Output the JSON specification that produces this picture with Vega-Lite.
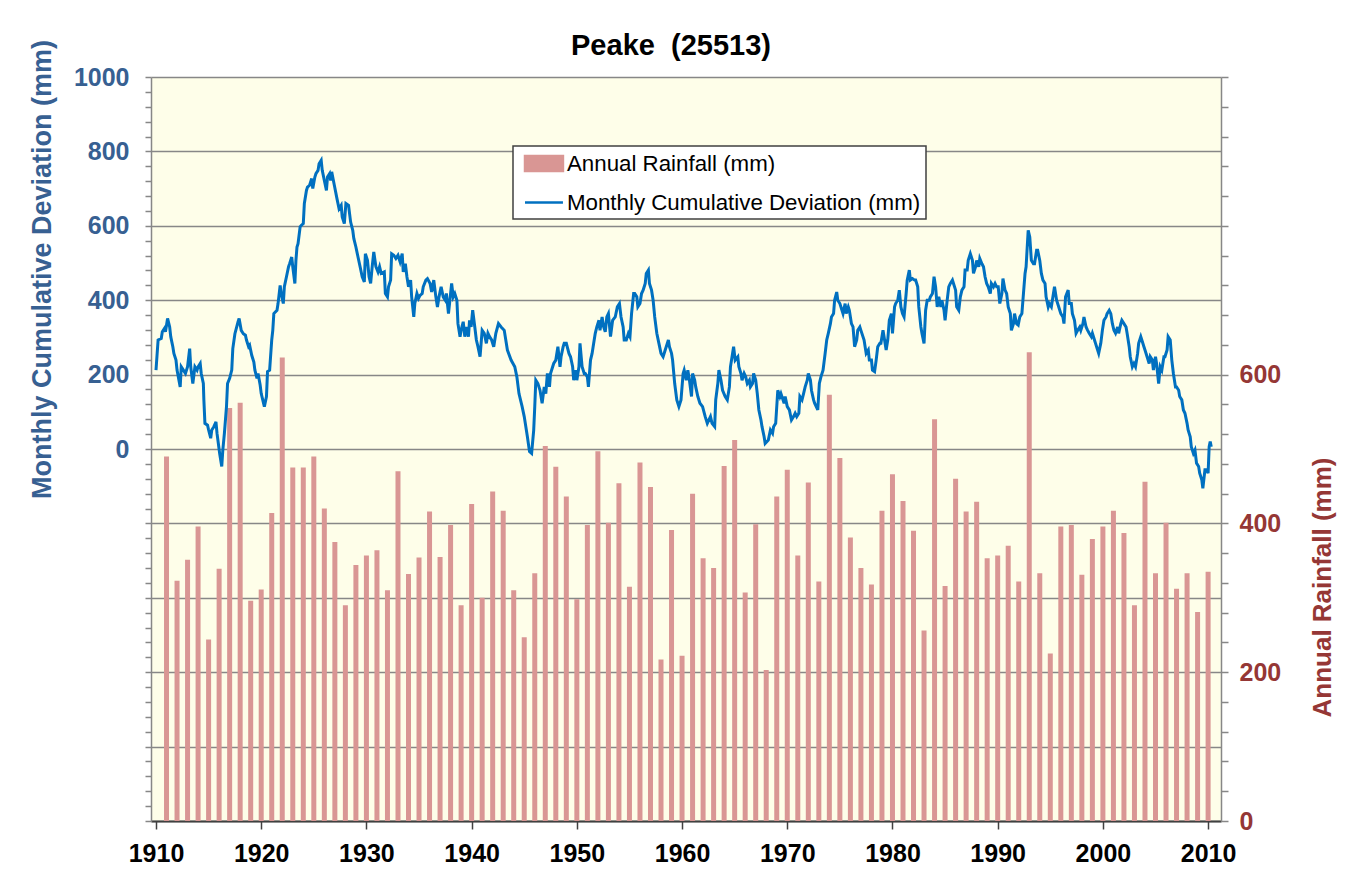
{
"$schema": "https://vega.github.io/schema/vega-lite/v6.json",
"width": 1070, "height": 744,
"autosize": "none",
"padding": {"left": 151, "top": 77, "right": 139, "bottom": 63},
"background": "white",
"config": {"font": "Liberation Sans", "view": {"fill": "#FEFEE9", "stroke": null}},
"title": {"text": "Peake \u00a0(25513)", "fontSize": 29, "fontWeight": "bold", "color": "black", "anchor": "middle", "frame": "group", "dx": -15, "offset": -22, "font": "Liberation Sans"},
"datasets": {
"rain": [
{"year":1911,"rain":490},{"year":1912,"rain":323},{"year":1913,"rain":351},{"year":1914,"rain":396},{"year":1915,"rain":244},{"year":1916,"rain":339},{"year":1917,"rain":555},{"year":1918,"rain":562},{"year":1919,"rain":296},{"year":1920,"rain":311},
{"year":1921,"rain":414},{"year":1922,"rain":623},{"year":1923,"rain":475},{"year":1924,"rain":475},{"year":1925,"rain":490},{"year":1926,"rain":420},{"year":1927,"rain":375},{"year":1928,"rain":290},{"year":1929,"rain":344},{"year":1930,"rain":357},
{"year":1931,"rain":364},{"year":1932,"rain":310},{"year":1933,"rain":470},{"year":1934,"rain":332},{"year":1935,"rain":354},{"year":1936,"rain":416},{"year":1937,"rain":355},{"year":1938,"rain":398},{"year":1939,"rain":290},{"year":1940,"rain":426},
{"year":1941,"rain":300},{"year":1942,"rain":443},{"year":1943,"rain":417},{"year":1944,"rain":310},{"year":1945,"rain":247},{"year":1946,"rain":333},{"year":1947,"rain":504},{"year":1948,"rain":476},{"year":1949,"rain":436},{"year":1950,"rain":298},
{"year":1951,"rain":398},{"year":1952,"rain":497},{"year":1953,"rain":401},{"year":1954,"rain":454},{"year":1955,"rain":315},{"year":1956,"rain":482},{"year":1957,"rain":449},{"year":1958,"rain":217},{"year":1959,"rain":391},{"year":1960,"rain":222},
{"year":1961,"rain":440},{"year":1962,"rain":353},{"year":1963,"rain":340},{"year":1964,"rain":477},{"year":1965,"rain":512},{"year":1966,"rain":307},{"year":1967,"rain":399},{"year":1968,"rain":203},{"year":1969,"rain":436},{"year":1970,"rain":472},
{"year":1971,"rain":357},{"year":1972,"rain":455},{"year":1973,"rain":322},{"year":1974,"rain":573},{"year":1975,"rain":488},{"year":1976,"rain":381},{"year":1977,"rain":340},{"year":1978,"rain":318},{"year":1979,"rain":417},{"year":1980,"rain":466},
{"year":1981,"rain":430},{"year":1982,"rain":390},{"year":1983,"rain":256},{"year":1984,"rain":540},{"year":1985,"rain":316},{"year":1986,"rain":460},{"year":1987,"rain":416},{"year":1988,"rain":429},{"year":1989,"rain":353},{"year":1990,"rain":357},
{"year":1991,"rain":370},{"year":1992,"rain":322},{"year":1993,"rain":630},{"year":1994,"rain":333},{"year":1995,"rain":225},{"year":1996,"rain":396},{"year":1997,"rain":398},{"year":1998,"rain":331},{"year":1999,"rain":379},{"year":2000,"rain":396},
{"year":2001,"rain":417},{"year":2002,"rain":387},{"year":2003,"rain":290},{"year":2004,"rain":456},{"year":2005,"rain":333},{"year":2006,"rain":401},{"year":2007,"rain":312},{"year":2008,"rain":333},{"year":2009,"rain":281},{"year":2010,"rain":335}
],
"dev": [
{"t":1910.0,"v":212},{"t":1910.2,"v":293},{"t":1910.5,"v":297},{"t":1910.6,"v":315},{"t":1910.8,"v":324},{"t":1910.9,"v":315},{"t":1911.1,"v":351},{"t":1911.3,"v":328},{"t":1911.4,"v":302},{"t":1911.6,"v":275},
{"t":1911.7,"v":257},{"t":1911.9,"v":239},{"t":1912.0,"v":212},{"t":1912.3,"v":167},{"t":1912.4,"v":221},{"t":1912.6,"v":212},{"t":1912.8,"v":203},{"t":1913.0,"v":221},{"t":1913.2,"v":270},{"t":1913.3,"v":221},
{"t":1913.5,"v":176},{"t":1913.7,"v":221},{"t":1913.9,"v":212},{"t":1914.0,"v":221},{"t":1914.2,"v":230},{"t":1914.3,"v":203},{"t":1914.5,"v":176},{"t":1914.55,"v":132},{"t":1914.65,"v":69},{"t":1914.9,"v":64},
{"t":1915.0,"v":51},{"t":1915.2,"v":29},{"t":1915.3,"v":51},{"t":1915.5,"v":60},{"t":1915.7,"v":73},{"t":1915.8,"v":42},{"t":1916.05,"v":-12},{"t":1916.25,"v":-47},{"t":1916.35,"v":-3},{"t":1916.5,"v":42},
{"t":1916.7,"v":114},{"t":1916.8,"v":176},{"t":1917.0,"v":190},{"t":1917.2,"v":212},{"t":1917.3,"v":270},{"t":1917.5,"v":310},{"t":1917.8,"v":342},{"t":1917.9,"v":351},{"t":1918.1,"v":319},{"t":1918.3,"v":310},
{"t":1918.5,"v":306},{"t":1918.6,"v":293},{"t":1918.8,"v":275},{"t":1918.9,"v":279},{"t":1919.1,"v":252},{"t":1919.3,"v":234},{"t":1919.4,"v":212},{"t":1919.6,"v":190},{"t":1919.7,"v":203},{"t":1919.9,"v":172},
{"t":1920.0,"v":149},{"t":1920.3,"v":114},{"t":1920.5,"v":141},{"t":1920.6,"v":208},{"t":1920.8,"v":212},{"t":1921.0,"v":293},{"t":1921.1,"v":319},{"t":1921.2,"v":364},{"t":1921.5,"v":373},{"t":1921.6,"v":391},
{"t":1921.8,"v":440},{"t":1921.9,"v":418},{"t":1922.1,"v":391},{"t":1922.2,"v":436},{"t":1922.4,"v":463},{"t":1922.6,"v":490},{"t":1922.7,"v":498},{"t":1922.9,"v":516},{"t":1923.0,"v":490},{"t":1923.2,"v":445},
{"t":1923.3,"v":507},{"t":1923.4,"v":543},{"t":1923.5,"v":552},{"t":1923.7,"v":597},{"t":1923.8,"v":601},{"t":1924.0,"v":606},{"t":1924.1,"v":660},{"t":1924.3,"v":695},{"t":1924.4,"v":704},{"t":1924.6,"v":709},
{"t":1924.8,"v":727},{"t":1924.9,"v":700},{"t":1925.1,"v":731},{"t":1925.2,"v":740},{"t":1925.4,"v":749},{"t":1925.5,"v":767},{"t":1925.7,"v":776},{"t":1925.8,"v":749},{"t":1926.0,"v":722},{"t":1926.2,"v":695},
{"t":1926.3,"v":731},{"t":1926.5,"v":740},{"t":1926.6,"v":722},{"t":1926.7,"v":745},{"t":1926.95,"v":709},{"t":1927.2,"v":673},{"t":1927.4,"v":646},{"t":1927.6,"v":655},{"t":1927.7,"v":624},{"t":1927.9,"v":606},
{"t":1928.05,"v":660},{"t":1928.3,"v":655},{"t":1928.5,"v":610},{"t":1928.7,"v":588},{"t":1928.8,"v":566},{"t":1929.0,"v":543},{"t":1929.2,"v":516},{"t":1929.4,"v":490},{"t":1929.6,"v":463},{"t":1929.8,"v":449},
{"t":1929.9,"v":525},{"t":1930.1,"v":507},{"t":1930.25,"v":463},{"t":1930.4,"v":445},{"t":1930.55,"v":490},{"t":1930.7,"v":530},{"t":1930.9,"v":490},{"t":1931.1,"v":476},{"t":1931.25,"v":490},{"t":1931.4,"v":472},
{"t":1931.7,"v":476},{"t":1931.8,"v":418},{"t":1932.0,"v":409},{"t":1932.1,"v":436},{"t":1932.3,"v":454},{"t":1932.4,"v":525},{"t":1932.6,"v":521},{"t":1932.8,"v":512},{"t":1933.0,"v":521},{"t":1933.2,"v":503},
{"t":1933.4,"v":525},{"t":1933.5,"v":476},{"t":1933.7,"v":498},{"t":1933.85,"v":463},{"t":1934.0,"v":436},{"t":1934.2,"v":454},{"t":1934.3,"v":409},{"t":1934.5,"v":355},{"t":1934.6,"v":391},{"t":1934.8,"v":418},
{"t":1934.95,"v":405},{"t":1935.1,"v":413},{"t":1935.3,"v":418},{"t":1935.4,"v":436},{"t":1935.65,"v":454},{"t":1935.8,"v":458},{"t":1936.05,"v":445},{"t":1936.2,"v":422},{"t":1936.4,"v":454},{"t":1936.6,"v":409},
{"t":1936.75,"v":382},{"t":1936.9,"v":409},{"t":1937.1,"v":436},{"t":1937.3,"v":409},{"t":1937.5,"v":400},{"t":1937.6,"v":418},{"t":1937.8,"v":364},{"t":1937.9,"v":391},{"t":1938.1,"v":445},{"t":1938.25,"v":409},
{"t":1938.4,"v":418},{"t":1938.6,"v":400},{"t":1938.7,"v":337},{"t":1938.9,"v":302},{"t":1939.0,"v":319},{"t":1939.2,"v":342},{"t":1939.35,"v":302},{"t":1939.5,"v":328},{"t":1939.7,"v":302},{"t":1939.8,"v":346},
{"t":1939.95,"v":328},{"t":1940.1,"v":373},{"t":1940.3,"v":328},{"t":1940.45,"v":293},{"t":1940.6,"v":275},{"t":1940.8,"v":248},{"t":1941.0,"v":319},{"t":1941.2,"v":311},{"t":1941.4,"v":284},{"t":1941.55,"v":311},
{"t":1941.7,"v":302},{"t":1941.9,"v":293},{"t":1942.1,"v":275},{"t":1942.3,"v":311},{"t":1942.55,"v":337},{"t":1942.8,"v":328},{"t":1943.1,"v":319},{"t":1943.4,"v":266},{"t":1943.75,"v":239},{"t":1944.1,"v":221},
{"t":1944.3,"v":194},{"t":1944.5,"v":149},{"t":1944.8,"v":114},{"t":1945.0,"v":87},{"t":1945.3,"v":33},{"t":1945.5,"v":-7},{"t":1945.7,"v":-12},{"t":1945.9,"v":51},{"t":1946.0,"v":114},{"t":1946.1,"v":185},
{"t":1946.3,"v":176},{"t":1946.5,"v":158},{"t":1946.7,"v":123},{"t":1946.9,"v":167},{"t":1947.05,"v":149},{"t":1947.2,"v":203},{"t":1947.4,"v":167},{"t":1947.5,"v":203},{"t":1947.8,"v":230},{"t":1948.0,"v":239},
{"t":1948.2,"v":275},{"t":1948.4,"v":221},{"t":1948.5,"v":248},{"t":1948.7,"v":275},{"t":1948.8,"v":284},{"t":1949.0,"v":284},{"t":1949.25,"v":257},{"t":1949.4,"v":248},{"t":1949.6,"v":221},{"t":1949.7,"v":185},
{"t":1949.9,"v":212},{"t":1950.0,"v":185},{"t":1950.2,"v":221},{"t":1950.3,"v":284},{"t":1950.5,"v":221},{"t":1950.7,"v":203},{"t":1950.8,"v":203},{"t":1951.0,"v":194},{"t":1951.1,"v":167},{"t":1951.3,"v":239},
{"t":1951.45,"v":257},{"t":1951.6,"v":284},{"t":1951.75,"v":311},{"t":1951.9,"v":328},{"t":1952.1,"v":346},{"t":1952.2,"v":319},{"t":1952.4,"v":355},{"t":1952.55,"v":328},{"t":1952.7,"v":315},{"t":1952.85,"v":355},
{"t":1953.0,"v":364},{"t":1953.2,"v":302},{"t":1953.4,"v":346},{"t":1953.65,"v":355},{"t":1953.85,"v":382},{"t":1954.05,"v":391},{"t":1954.2,"v":355},{"t":1954.4,"v":328},{"t":1954.5,"v":293},{"t":1954.7,"v":293},
{"t":1954.9,"v":311},{"t":1955.05,"v":302},{"t":1955.2,"v":364},{"t":1955.4,"v":418},{"t":1955.5,"v":418},{"t":1955.7,"v":409},{"t":1955.8,"v":382},{"t":1956.0,"v":391},{"t":1956.15,"v":418},{"t":1956.3,"v":427},
{"t":1956.5,"v":445},{"t":1956.6,"v":472},{"t":1956.8,"v":481},{"t":1956.9,"v":445},{"t":1957.1,"v":427},{"t":1957.25,"v":400},{"t":1957.4,"v":355},{"t":1957.6,"v":311},{"t":1957.8,"v":284},{"t":1958.0,"v":257},
{"t":1958.2,"v":248},{"t":1958.4,"v":266},{"t":1958.7,"v":293},{"t":1958.8,"v":275},{"t":1959.0,"v":257},{"t":1959.1,"v":239},{"t":1959.3,"v":176},{"t":1959.5,"v":132},{"t":1959.7,"v":114},{"t":1959.9,"v":132},
{"t":1960.1,"v":203},{"t":1960.2,"v":212},{"t":1960.4,"v":185},{"t":1960.55,"v":212},{"t":1960.7,"v":185},{"t":1960.9,"v":141},{"t":1961.0,"v":203},{"t":1961.2,"v":185},{"t":1961.3,"v":167},{"t":1961.5,"v":141},
{"t":1961.7,"v":123},{"t":1961.95,"v":114},{"t":1962.2,"v":87},{"t":1962.4,"v":69},{"t":1962.7,"v":87},{"t":1962.85,"v":69},{"t":1963.1,"v":60},{"t":1963.2,"v":132},{"t":1963.4,"v":176},{"t":1963.5,"v":212},
{"t":1963.7,"v":185},{"t":1963.85,"v":158},{"t":1964.1,"v":141},{"t":1964.3,"v":132},{"t":1964.5,"v":167},{"t":1964.6,"v":221},{"t":1964.8,"v":257},{"t":1964.9,"v":275},{"t":1965.05,"v":239},{"t":1965.3,"v":248},
{"t":1965.4,"v":221},{"t":1965.6,"v":203},{"t":1965.7,"v":185},{"t":1965.9,"v":203},{"t":1966.05,"v":194},{"t":1966.2,"v":176},{"t":1966.4,"v":185},{"t":1966.5,"v":167},{"t":1966.7,"v":176},{"t":1966.8,"v":203},
{"t":1967.0,"v":185},{"t":1967.15,"v":149},{"t":1967.3,"v":105},{"t":1967.5,"v":78},{"t":1967.6,"v":60},{"t":1967.8,"v":33},{"t":1967.9,"v":15},{"t":1968.2,"v":24},{"t":1968.4,"v":51},{"t":1968.6,"v":42},
{"t":1968.7,"v":60},{"t":1968.9,"v":69},{"t":1969.1,"v":158},{"t":1969.3,"v":141},{"t":1969.4,"v":149},{"t":1969.7,"v":123},{"t":1969.8,"v":141},{"t":1970.0,"v":114},{"t":1970.2,"v":105},{"t":1970.4,"v":78},
{"t":1970.6,"v":87},{"t":1970.75,"v":96},{"t":1970.9,"v":87},{"t":1971.1,"v":96},{"t":1971.2,"v":141},{"t":1971.4,"v":132},{"t":1971.55,"v":149},{"t":1971.7,"v":167},{"t":1971.9,"v":185},{"t":1972.0,"v":203},
{"t":1972.2,"v":185},{"t":1972.3,"v":158},{"t":1972.5,"v":132},{"t":1972.6,"v":123},{"t":1972.9,"v":105},{"t":1973.05,"v":176},{"t":1973.2,"v":194},{"t":1973.4,"v":212},{"t":1973.6,"v":257},{"t":1973.75,"v":293},
{"t":1973.9,"v":311},{"t":1974.1,"v":337},{"t":1974.2,"v":355},{"t":1974.4,"v":364},{"t":1974.5,"v":400},{"t":1974.7,"v":422},{"t":1974.8,"v":400},{"t":1975.0,"v":391},{"t":1975.2,"v":373},{"t":1975.3,"v":364},
{"t":1975.5,"v":391},{"t":1975.6,"v":364},{"t":1975.8,"v":382},{"t":1975.9,"v":373},{"t":1976.1,"v":337},{"t":1976.25,"v":328},{"t":1976.4,"v":275},{"t":1976.6,"v":293},{"t":1976.7,"v":319},{"t":1976.9,"v":328},
{"t":1977.0,"v":319},{"t":1977.3,"v":293},{"t":1977.5,"v":257},{"t":1977.7,"v":266},{"t":1977.8,"v":239},{"t":1978.0,"v":239},{"t":1978.1,"v":212},{"t":1978.3,"v":208},{"t":1978.45,"v":239},{"t":1978.6,"v":275},
{"t":1978.8,"v":284},{"t":1978.9,"v":284},{"t":1979.1,"v":319},{"t":1979.2,"v":302},{"t":1979.4,"v":266},{"t":1979.55,"v":293},{"t":1979.7,"v":346},{"t":1979.9,"v":364},{"t":1980.0,"v":311},{"t":1980.2,"v":382},
{"t":1980.3,"v":391},{"t":1980.5,"v":400},{"t":1980.65,"v":427},{"t":1980.8,"v":382},{"t":1980.95,"v":364},{"t":1981.1,"v":355},{"t":1981.3,"v":418},{"t":1981.4,"v":454},{"t":1981.6,"v":481},{"t":1981.7,"v":454},
{"t":1981.9,"v":458},{"t":1982.1,"v":454},{"t":1982.2,"v":454},{"t":1982.4,"v":436},{"t":1982.5,"v":382},{"t":1982.7,"v":328},{"t":1982.8,"v":311},{"t":1983.0,"v":284},{"t":1983.15,"v":373},{"t":1983.3,"v":400},
{"t":1983.5,"v":400},{"t":1983.6,"v":409},{"t":1983.8,"v":418},{"t":1983.95,"v":463},{"t":1984.1,"v":436},{"t":1984.25,"v":382},{"t":1984.4,"v":409},{"t":1984.6,"v":382},{"t":1984.7,"v":400},{"t":1984.9,"v":373},
{"t":1985.0,"v":346},{"t":1985.2,"v":400},{"t":1985.35,"v":436},{"t":1985.5,"v":445},{"t":1985.7,"v":454},{"t":1985.8,"v":445},{"t":1986.0,"v":427},{"t":1986.1,"v":382},{"t":1986.3,"v":373},{"t":1986.45,"v":409},
{"t":1986.6,"v":427},{"t":1986.8,"v":436},{"t":1986.9,"v":481},{"t":1987.1,"v":481},{"t":1987.2,"v":507},{"t":1987.4,"v":525},{"t":1987.6,"v":507},{"t":1987.7,"v":472},{"t":1987.9,"v":490},{"t":1988.0,"v":507},
{"t":1988.2,"v":490},{"t":1988.3,"v":512},{"t":1988.5,"v":498},{"t":1988.65,"v":490},{"t":1988.8,"v":463},{"t":1988.95,"v":445},{"t":1989.1,"v":436},{"t":1989.3,"v":418},{"t":1989.4,"v":445},{"t":1989.6,"v":436},
{"t":1989.75,"v":445},{"t":1989.9,"v":436},{"t":1990.05,"v":436},{"t":1990.2,"v":391},{"t":1990.4,"v":418},{"t":1990.5,"v":458},{"t":1990.7,"v":427},{"t":1990.85,"v":418},{"t":1991.0,"v":382},{"t":1991.2,"v":364},
{"t":1991.3,"v":319},{"t":1991.5,"v":337},{"t":1991.6,"v":364},{"t":1991.8,"v":337},{"t":1991.95,"v":333},{"t":1992.1,"v":355},{"t":1992.3,"v":364},{"t":1992.4,"v":400},{"t":1992.6,"v":472},{"t":1992.7,"v":490},
{"t":1992.9,"v":588},{"t":1993.05,"v":570},{"t":1993.2,"v":507},{"t":1993.4,"v":498},{"t":1993.5,"v":498},{"t":1993.7,"v":534},{"t":1993.8,"v":534},{"t":1994.0,"v":507},{"t":1994.15,"v":472},{"t":1994.3,"v":454},
{"t":1994.5,"v":445},{"t":1994.6,"v":409},{"t":1994.8,"v":382},{"t":1994.9,"v":391},{"t":1995.1,"v":382},{"t":1995.25,"v":409},{"t":1995.4,"v":436},{"t":1995.6,"v":400},{"t":1995.7,"v":391},{"t":1995.9,"v":373},
{"t":1996.0,"v":364},{"t":1996.2,"v":355},{"t":1996.3,"v":337},{"t":1996.45,"v":409},{"t":1996.7,"v":427},{"t":1996.8,"v":391},{"t":1997.0,"v":391},{"t":1997.1,"v":364},{"t":1997.3,"v":346},{"t":1997.45,"v":311},
{"t":1997.6,"v":319},{"t":1997.8,"v":328},{"t":1997.9,"v":319},{"t":1998.1,"v":337},{"t":1998.2,"v":355},{"t":1998.4,"v":328},{"t":1998.55,"v":319},{"t":1998.7,"v":311},{"t":1998.9,"v":302},{"t":1999.0,"v":311},
{"t":1999.2,"v":293},{"t":1999.3,"v":284},{"t":1999.5,"v":266},{"t":1999.6,"v":257},{"t":1999.8,"v":284},{"t":1999.95,"v":319},{"t":2000.1,"v":346},{"t":2000.3,"v":355},{"t":2000.4,"v":364},{"t":2000.6,"v":373},
{"t":2000.75,"v":364},{"t":2000.9,"v":337},{"t":2001.05,"v":319},{"t":2001.2,"v":311},{"t":2001.4,"v":328},{"t":2001.5,"v":311},{"t":2001.7,"v":337},{"t":2001.8,"v":346},{"t":2002.0,"v":337},{"t":2002.2,"v":328},
{"t":2002.3,"v":311},{"t":2002.5,"v":275},{"t":2002.6,"v":248},{"t":2002.8,"v":221},{"t":2002.95,"v":230},{"t":2003.1,"v":221},{"t":2003.3,"v":257},{"t":2003.4,"v":284},{"t":2003.6,"v":302},{"t":2003.7,"v":293},
{"t":2003.9,"v":275},{"t":2004.0,"v":266},{"t":2004.2,"v":248},{"t":2004.4,"v":230},{"t":2004.5,"v":248},{"t":2004.7,"v":239},{"t":2004.8,"v":212},{"t":2005.0,"v":248},{"t":2005.1,"v":230},{"t":2005.3,"v":176},
{"t":2005.45,"v":221},{"t":2005.6,"v":212},{"t":2005.8,"v":248},{"t":2005.9,"v":248},{"t":2006.1,"v":266},{"t":2006.2,"v":302},{"t":2006.4,"v":293},{"t":2006.55,"v":239},{"t":2006.7,"v":203},{"t":2006.9,"v":167},
{"t":2007.0,"v":167},{"t":2007.2,"v":158},{"t":2007.3,"v":141},{"t":2007.5,"v":132},{"t":2007.65,"v":105},{"t":2007.8,"v":96},{"t":2008.0,"v":69},{"t":2008.1,"v":51},{"t":2008.3,"v":33},{"t":2008.4,"v":6},
{"t":2008.6,"v":-12},{"t":2008.75,"v":-3},{"t":2008.9,"v":-38},{"t":2009.1,"v":-47},{"t":2009.2,"v":-65},{"t":2009.4,"v":-83},{"t":2009.5,"v":-106},{"t":2009.7,"v":-56},{"t":2009.85,"v":-56},{"t":2010.0,"v":-65},
{"t":2010.1,"v":6},{"t":2010.2,"v":20},{"t":2010.3,"v":6}
]
},
"layer": [
{
"data": {"name": "rain"},
"mark": {"type": "bar", "size": 5},
"encoding": {
"x": {"field": "year", "type": "quantitative", "title": null,
 "scale": {"domain": [1910, 2010.75], "nice": false, "zero": false},
 "axis": {"values": [1910,1920,1930,1940,1950,1960,1970,1980,1990,2000,2010], "format": "d", "grid": false,
  "labelFontSize": 25, "labelFontWeight": "bold", "labelColor": "black", "labelFont": "Liberation Sans", "labelPadding": 12, "labelFlush": false,
  "tickSize": 8, "tickColor": "#404040", "tickWidth": 1.5, "domainColor": "#404040", "domainWidth": 2}},
"y": {"field": "rain", "type": "quantitative",
 "scale": {"domain": [0, 1000], "nice": false},
 "axis": {"orient": "right", "title": "Annual Rainfall (mm)", "titleColor": "#953735", "titleFontSize": 26, "titleFontWeight": "bold", "titleFont": "Liberation Sans",
  "titleAngle": 270, "titleX": 101, "titleY": 510, "titleAlign": "center", "titleBaseline": "middle",
  "values": [0,40,80,120,160,200,240,280,320,360,400,440,480,520,560,600,640,680,720,760,800,840,880,920,960,1000],
  "format": "d",
  "labelExpr": "(datum.value % 200 === 0 && datum.value <= 600) ? datum.label : ''",
  "labelColor": "#953735", "labelFontSize": 25, "labelFontWeight": "bold", "labelFont": "Liberation Sans", "labelPadding": 11, "labelOverlap": false, "labelBound": false, "labelFlush": false,
  "tickSize": 7, "tickColor": "#878787", "tickWidth": 1.5, "domainColor": "#878787", "domainWidth": 1.5, "grid": false}},
"color": {"datum": "Annual Rainfall (mm)", "type": "nominal",
 "scale": {"domain": ["Annual Rainfall (mm)", "Monthly Cumulative Deviation (mm)"], "range": ["#D99694", "#0070C0"]},
 "legend": {"orient": "none", "legendX": 362, "legendY": 69, "title": null, "direction": "vertical",
  "fillColor": "white", "strokeColor": "#404040", "padding": 5,
  "labelFontSize": 22.3, "labelColor": "black", "labelFont": "Liberation Sans", "labelOffset": 24, "labelLimit": 600,
  "symbolSize": 484, "rowPadding": 14, "symbolStrokeWidth": 2.5,
  "encode": {
   "legend": {"update": {"strokeWidth": {"value": 1.5}}},
   "symbols": {"update": {
    "shape": {"signal": "datum.value === 'Annual Rainfall (mm)' ? 'M-0.5,-0.68H2.95V0.68H-0.5Z' : 'M-0.5,0H2.95'"},
    "fill": {"signal": "datum.value === 'Annual Rainfall (mm)' ? '#D99694' : 'transparent'"},
    "stroke": {"signal": "datum.value === 'Annual Rainfall (mm)' ? 'transparent' : '#0070C0'"},
    "strokeWidth": {"value": 2.5},
    "opacity": {"value": 1}, "fillOpacity": {"value": 1}, "strokeOpacity": {"value": 1}}}}}}
}
},
{
"data": {"name": "dev"},
"mark": {"type": "line", "strokeWidth": 3},
"encoding": {
"x": {"field": "t", "type": "quantitative"},
"y": {"field": "v", "type": "quantitative",
 "scale": {"domain": [-1000, 1000], "nice": false},
 "axis": {"orient": "left", "title": "Monthly Cumulative Deviation (mm)", "titleColor": "#376092", "titleFontSize": 27, "titleFontWeight": "bold", "titleFont": "Liberation Sans",
  "titleAngle": 270, "titleX": -109, "titleY": 192, "titleAlign": "center", "titleBaseline": "middle",
  "values": [-1000,-960,-920,-880,-840,-800,-760,-720,-680,-640,-600,-560,-520,-480,-440,-400,-360,-320,-280,-240,-200,-160,-120,-80,-40,0,40,80,120,160,200,240,280,320,360,400,440,480,520,560,600,640,680,720,760,800,840,880,920,960,1000],
  "format": "d",
  "labelExpr": "(datum.value >= 0 && datum.value % 200 === 0) ? datum.label : ''",
  "labelColor": "#376092", "labelFontSize": 25, "labelFontWeight": "bold", "labelFont": "Liberation Sans", "labelPadding": 16, "labelOverlap": false, "labelBound": false, "labelFlush": false,
  "tickSize": 6, "tickColor": "#878787", "tickWidth": 1.5, "domainColor": "#878787", "domainWidth": 1.5,
  "grid": true, "gridColor": "#878787", "gridWidth": 1.5,
  "gridOpacity": {"condition": {"test": "datum.value % 200 === 0", "value": 1}, "value": 0}}},
"color": {"datum": "Monthly Cumulative Deviation (mm)", "type": "nominal"}
}
}
],
"resolve": {"scale": {"y": "independent"}}
}
